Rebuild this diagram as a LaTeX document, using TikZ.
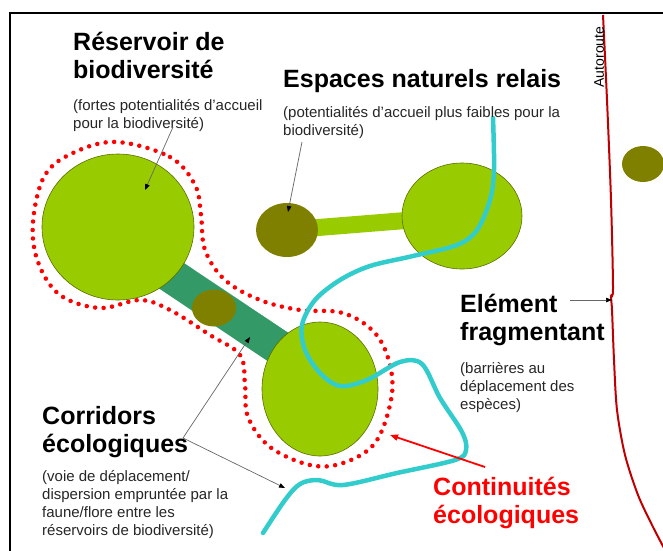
\documentclass[tikz,border=0pt]{standalone}
\usepackage{fontspec}
\setmainfont{Liberation Sans}
\usetikzlibrary{positioning,arrows.meta,shapes.geometric,backgrounds}

\definecolor{reserve}{HTML}{99CC00}
\definecolor{relay}{HTML}{808000}
\definecolor{corridor}{HTML}{339966}
\definecolor{river}{HTML}{33CCCC}
\definecolor{highway}{HTML}{C00000}
\definecolor{rim}{HTML}{5A6E00}

\tikzset{
  reservoir/.style={ellipse, draw=rim, line width=0.6pt, fill=reserve, inner sep=0pt},
  patch/.style={ellipse, fill=relay, inner sep=0pt},
  title/.style={font=\fontsize{25}{28}\selectfont\bfseries, align=left, anchor=base west, inner sep=0pt},
  note/.style={font=\fontsize{15}{18}\selectfont, text=black!85, align=left, anchor=base west, inner sep=0pt},
  pointer/.style={-{Triangle[length=6pt,width=4.5pt,color=black]}, draw=black!60, line width=0.7pt},
  envelope/.style={red, line width=4.5pt, line cap=round, dash pattern=on 0pt off 8.5pt},
}

\begin{document}
\begin{tikzpicture}[x=1pt,y=-1pt]
    \useasboundingbox (0,0) rectangle (663,550);
    \clip (0,0) rectangle (663,550);

    % Frame
    \draw[line width=2.5pt] (10,560) -- (10,13) -- (670,13);

    % Reservoirs and relay patches
    \node[reservoir, minimum width=152, minimum height=146] (bigres) at (118,227) {};
    \node[reservoir, minimum width=116, minimum height=134] (lowres) at (320,389) {};
    \node[reservoir, minimum width=120, minimum height=106] (relayres) at (462,216) {};
    \node[patch, minimum width=62, minimum height=54] (relaypatch) at (287,230) {};
    \node[patch, minimum width=44, minimum height=37] (stepping) at (214,308) {};
    \node[patch, minimum width=42, minimum height=36] (farpatch) at (643,164) {};

    % Corridors (behind)
    \coordinate (corA) at (118,240);
    \coordinate (corB) at (320,375);
    \begin{scope}[on background layer]
        \draw[corridor, line width=35pt] (corA) -- (corB);
        \draw[reserve, line width=17pt] (relaypatch.center) -- (relayres.center);
    \end{scope}

    % Ecological continuity
    \draw[envelope] plot[smooth cycle, tension=0.6] coordinates {
        (117,142) (170,157) (195,185) (201,215) (205,250) (225,280) (260,300)
        (300,310) (343,313) (375,333) (390,365) (391,400) (375,443) (343,463)
        (310,465) (270,447) (248,417) (245,385) (240,355) (210,335) (170,310)
        (140,300) (100,308) (60,295) (38,262) (33,222) (45,175) (75,152)};

    % River
    \draw[river, line width=4.5pt, line cap=round] plot[smooth, tension=0.55] coordinates {
        (493,118) (494,170) (490,200) (477,230) (457,245) (413,256) (370,266)
        (340,280) (315,300) (302,325) (305,350) (320,373) (340,386) (367,380)
        (400,362) (422,364) (440,398) (462,432) (466,450) (455,460) (397,473)
        (343,485) (318,480) (300,484) (285,500) (263,533)};

    % Highway
    \draw[highway, line width=2pt] plot[smooth, tension=0.5] coordinates {
        (603,15) (607,100) (611,200) (613,288) (611,296) (612,310) (614,360)
        (617,410) (625,455) (638,495) (652,525) (665,550)};
    \node[font=\fontsize{14}{16}\selectfont, rotate=90, inner sep=0pt] (hwlabel) at (599,57) {Autoroute};

    % Labels
    \node[title] (restitle) at (73,78) {Réservoir de\\biodiversité};
    \node[note] (resnote) at (73,128) {(fortes potentialités d’accueil\\pour la biodiversité)};
    \node[title] (relaytitle) at (283,87) {Espaces naturels relais};
    \node[note] (relaynote) at (283,135) {(potentialités d’accueil plus faibles pour la\\biodiversité)};
    \node[title] (fragtitle) at (460,340) {Elément\\fragmentant};
    \node[note] (fragnote) at (460,409) {(barrières au\\déplacement des\\espèces)};
    \node[title] (cortitle) at (42,452) {Corridors\\écologiques};
    \node[note] (cornote) at (42,535) {(voie de déplacement/\\dispersion empruntée par la\\faune/flore entre les\\réservoirs de biodiversité)};
    \node[title, text=red] (contitle) at (433,523) {Continuités\\écologiques};

    % Pointers
    \coordinate (resfrom) at (173,127);
    \coordinate (resto) at (145,190);
    \coordinate (relayfrom) at (302,142);
    \coordinate (relayto) at (288,212);
    \coordinate (corfrom) at (183,438);
    \coordinate (corto) at (250,337);
    \coordinate (riverto) at (285,488);
    \coordinate (fragfrom) at (570,300);
    \coordinate (fragto) at (612,300);
    \coordinate (confrom) at (485,467);
    \coordinate (conto) at (390,435);
    \draw[pointer] (resfrom) -- (resto);
    \draw[pointer] (relayfrom) -- (relayto);
    \draw[pointer] (corfrom) -- (corto);
    \draw[pointer] (corfrom) -- (riverto);
    \draw[pointer] (fragfrom) -- (fragto);
    \draw[-{Triangle[length=8pt,width=6pt]}, red, line width=1.8pt] (confrom) -- (conto);
\end{tikzpicture}
\end{document}
